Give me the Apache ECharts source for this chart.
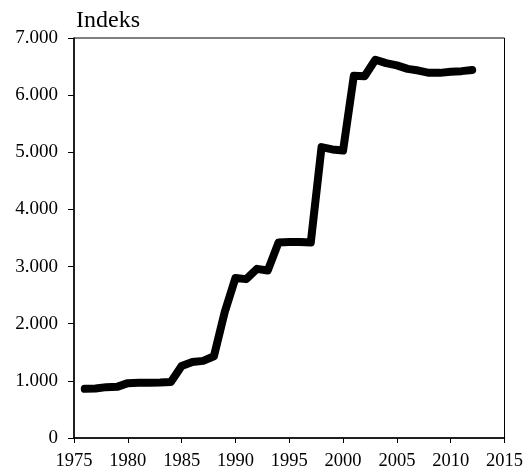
<!DOCTYPE html>
<html><head><meta charset="utf-8">
<script src="https://cdn.jsdelivr.net/npm/echarts@6/dist/echarts.min.js"></script>
<style>html,body{margin:0;padding:0;background:#fff}#c{width:526px;height:471px}</style>
</head><body><div id="c"></div>
<script>
var years = [1976,1977,1978,1979,1980,1981,1982,1983,1984,1985,1986,1987,1988,1989,1990,1991,1992,1993,1994,1995,1996,1997,1998,1999,2000,2001,2002,2003,2004,2005,2006,2007,2008,2009,2010,2011,2012];
var values = [860,865,890,895,960,965,965,970,980,1260,1330,1350,1430,2200,2800,2780,2960,2930,3420,3430,3430,3420,5090,5050,5030,6340,6330,6620,6560,6520,6460,6430,6390,6390,6410,6420,6440];
var yTicks = [0,1000,2000,3000,4000,5000,6000,7000];
var xTicks = [1975,1980,1985,1990,1995,2000,2005,2010,2015];
var yName = 'Indeks';
var data = years.map(function(y,i){return [y, values[i]];});
function fmt(v){ if(v===0) return '0'; var s=String(v); return s.replace(/\B(?=(\d{3})+(?!\d))/g,'.'); }
var font = 'Liberation Serif';
var chart = echarts.init(document.getElementById('c'));
chart.setOption({
  animation:false,
  grid:{left:74,right:18,top:38,bottom:32,show:true,borderColor:'#000',borderWidth:1},
  title:{text:yName,left:76,top:9,padding:0,textStyle:{fontFamily:font,fontSize:24,fontWeight:'normal',color:'#000'}},
  xAxis:{type:'value',min:xTicks[0],max:xTicks[xTicks.length-1],interval:5,
    axisLine:{lineStyle:{color:'#000',width:1.5}},
    axisTick:{show:true,inside:false,length:5,lineStyle:{color:'#000'}},
    splitLine:{show:false},
    axisLabel:{fontFamily:font,fontSize:18.5,color:'#000',margin:14,formatter:function(v){return String(v);}}},
  yAxis:{type:'value',min:yTicks[0],max:yTicks[yTicks.length-1],interval:1000,
    axisLine:{show:true,lineStyle:{color:'#000',width:1.5}},
    axisTick:{show:true,inside:false,length:6,lineStyle:{color:'#000'}},
    splitLine:{show:false},
    axisLabel:{fontFamily:font,fontSize:19,color:'#000',margin:16,formatter:fmt}},
  series:[{type:'line',data:data,symbol:'none',smooth:false,
    lineStyle:{color:'#000',width:8,cap:'round',join:'round'}}]
});
</script></body></html>
